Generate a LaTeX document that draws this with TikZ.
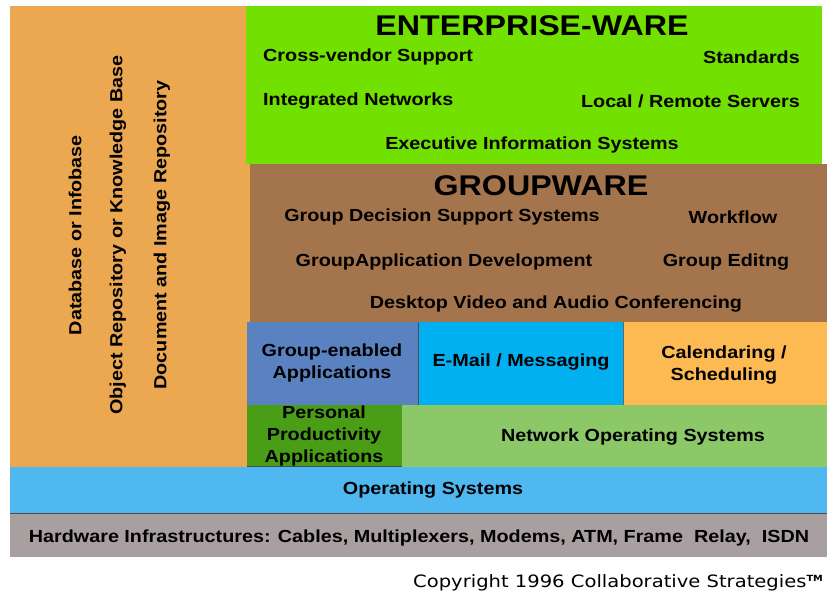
\documentclass[tikz,border=0pt]{standalone}
\usepackage{fontspec}
\setmainfont[FakeStretch=1.13]{Liberation Sans}
\newfontfamily\copyfont[FakeStretch=1.15]{DejaVu Sans}
\definecolor{cOrange}{RGB}{235,168,80}
\definecolor{cGreen}{RGB}{114,224,0}
\definecolor{cBrown}{RGB}{164,116,76}
\definecolor{cSteel}{RGB}{90,130,192}
\definecolor{cMail}{RGB}{0,176,240}
\definecolor{cCal}{RGB}{253,185,82}
\definecolor{cPers}{RGB}{74,158,22}
\definecolor{cNos}{RGB}{140,200,104}
\definecolor{cOs}{RGB}{80,184,240}
\definecolor{cHw}{RGB}{168,160,160}
\begin{document}
\begin{tikzpicture}[x=1pt,y=-1pt,
  lbl/.style={font=\bfseries\fontsize{17.5}{19}\selectfont, inner sep=0pt},
  big/.style={font=\bfseries\fontsize{28.5}{32}\selectfont, inner sep=0pt},
  vlbl/.style={font=\bfseries\fontsize{17.5}{19}\selectfont, inner sep=0pt, rotate=90},
  ml/.style={lbl, align=center, font=\bfseries\fontsize{17.5}{22}\selectfont}]
\useasboundingbox (0,0) rectangle (827,595);
\fill[white] (0,0) rectangle (827,595);
% panels
\fill[cOrange] (10,6) rectangle (250,467);
\fill[cGreen] (246,6) rectangle (822,164);
\fill[cBrown] (250,164) rectangle (827,322);
\fill[cSteel] (247,322) rectangle (418,405);
\fill[cMail] (418,322) rectangle (623,405);
\fill[cCal] (623,322) rectangle (827,405);
\fill[cPers] (247,405) rectangle (402,467);
\fill[cNos] (402,405) rectangle (827,467);
\fill[cOs] (10,467) rectangle (827,513);
\fill[cHw] (10,513) rectangle (827,557);
\draw[black!70, line width=0.8pt] (418,322) -- (418,405);
\draw[black!60, line width=0.6pt] (623,322) -- (623,405);
\draw[black!70, line width=0.8pt] (247,466) -- (402,466);
\draw[black!70, line width=0.8pt] (10,513) -- (827,513);
% vertical texts
\node[vlbl] (db) at (75,235) {Database or Infobase};
\node[vlbl] (obj) at (118,235) {Object Repository or Knowledge Base};
\node[vlbl] (doc) at (162,235) {Document and Image Repository};
% enterprise
\node[big] (ew) at (532,26) {ENTERPRISE-WARE};
\node[lbl, anchor=west] (cv) at (263,57) {Cross-vendor Support};
\node[lbl, anchor=east] (st) at (800,57) {Standards};
\node[lbl, anchor=west] (in) at (263,101) {Integrated Networks};
\node[lbl, anchor=east] (lr) at (800,101) {Local / Remote Servers};
\node[lbl] (eis) at (532,145) {Executive Information Systems};
% groupware
\node[big] (gw) at (541,186) {GROUPWARE};
\node[lbl] (gds) at (442,217) {Group Decision Support Systems};
\node[lbl] (wf) at (733,217) {Workflow};
\node[lbl] (gad) at (444,262) {GroupApplication Development};
\node[lbl] (ge) at (726,262) {Group Editng};
\node[lbl] (dv) at (556,304) {Desktop Video and Audio Conferencing};
% apps
\node[ml] (gea) at (332,363) {Group-enabled\\Applications};
\node[lbl] (em) at (521,362) {E-Mail / Messaging};
\node[ml] (cal) at (724,365) {Calendaring /\\Scheduling};
\node[ml] (pp) at (324,436) {Personal\\Productivity\\Applications};
\node[lbl] (nos) at (633,437) {Network Operating Systems};
\node[lbl] (os) at (433,490) {Operating Systems};
\node[lbl] (hw) at (419,538) {Hardware Infrastructures: Cables, Multiplexers, Modems, ATM, Frame\ \ Relay,\ \ ISDN};
\node[font=\copyfont\fontsize{17}{18}\selectfont, anchor=west, inner sep=0pt] (cp) at (413,583) {Copyright 1996 Collaborative Strategies\raisebox{6.5pt}{\fontsize{8.5}{9}\selectfont\bfseries TM}};
\end{tikzpicture}
\end{document}
